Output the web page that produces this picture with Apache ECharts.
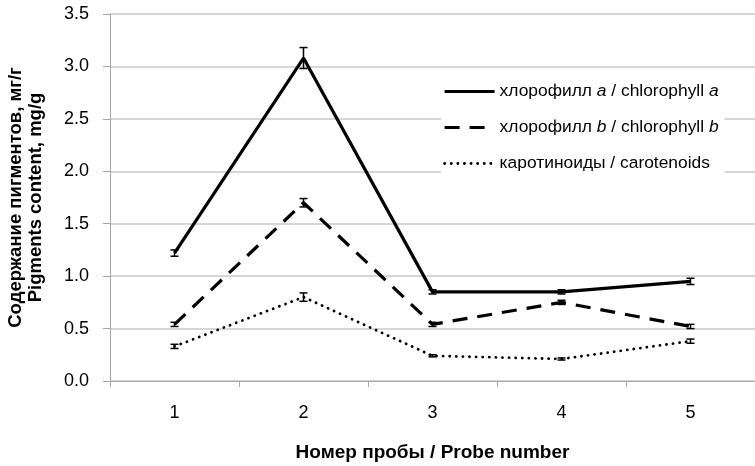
<!DOCTYPE html>
<html><head><meta charset="utf-8">
<script src="https://cdn.jsdelivr.net/npm/echarts@6/dist/echarts.min.js"></script>
<style>html,body{margin:0;padding:0;background:#fff}#c{width:755px;height:466px}</style>
</head><body><div id="c"></div>
<script>
const categories = ['1','2','3','4','5'];
const chlA = [1.22, 3.08, 0.85, 0.85, 0.95];
const chlAErr = [0.03, 0.10, 0.02, 0.02, 0.03];
const chlB = [0.54, 1.70, 0.54, 0.75, 0.52];
const chlBErr = [0.02, 0.04, 0.02, 0.02, 0.02];
const car = [0.33, 0.80, 0.24, 0.21, 0.38];
const carErr = [0.02, 0.04, 0.01, 0.01, 0.02];
const seriesNames = ['хлорофилл a / chlorophyll a', 'хлорофилл b / chlorophyll b', 'каротиноиды / carotenoids'];

const FONT = '"Liberation Sans", Arial, sans-serif';
function errSeries(vals, errs) {
  return {
    type: 'custom', silent: true, z: 5,
    data: vals.map((v, i) => [i, v - errs[i], v + errs[i]]),
    renderItem: function (params, api) {
      const lo = api.coord([api.value(0), api.value(1)]);
      const hi = api.coord([api.value(0), api.value(2)]);
      const w = 4;
      const st = {stroke: '#000', lineWidth: 1.5};
      return {type: 'group', children: [
        {type: 'line', shape: {x1: lo[0], y1: lo[1], x2: hi[0], y2: hi[1]}, style: st},
        {type: 'line', shape: {x1: lo[0]-w, y1: lo[1], x2: lo[0]+w, y2: lo[1]}, style: st},
        {type: 'line', shape: {x1: hi[0]-w, y1: hi[1], x2: hi[0]+w, y2: hi[1]}, style: st}
      ]};
    }
  };
}
const chart = echarts.init(document.getElementById('c'));
const rich = {n: {fontFamily: FONT, fontSize: 17.4, color: '#000'}, i: {fontFamily: FONT, fontSize: 17.4, fontStyle: 'italic', color: '#000'}};
chart.setOption({
  animation: false,
  grid: {left: 110, right: 0, top: 14, bottom: 85, containLabel: false, outerBoundsMode: 'none'},
  legend: {
    orient: 'vertical', left: 441, top: 79, itemGap: 19, itemWidth: 50, itemHeight: 16,
    backgroundColor: '#fff', padding: [4, 6, 12, 2],
    itemStyle: {color: 'rgba(0,0,0,0)', borderWidth: 0, opacity: 0},
    lineStyle: {width: 'inherit'},
    data: seriesNames.map(n => ({name: n})),
    formatter: function (name) {
      if (name === seriesNames[0]) return '{n|хлорофилл }{i|a}{n| / chlorophyll }{i|a}';
      if (name === seriesNames[1]) return '{n|хлорофилл }{i|b}{n| / chlorophyll }{i|b}';
      return '{n|каротиноиды / carotenoids}';
    },
    textStyle: {rich: rich, fontFamily: FONT, fontSize: 17.4}
  },
  xAxis: {
    type: 'category', data: categories, boundaryGap: true,
    name: 'Номер пробы / Probe number', nameLocation: 'middle', nameGap: 62,
    nameTextStyle: {fontFamily: FONT, fontSize: 19, fontWeight: 'bold', color: '#000'},
    axisLine: {lineStyle: {color: '#a6a6a6', width: 1}},
    axisTick: {show: true, length: 6, lineStyle: {color: '#a6a6a6'}},
    axisLabel: {fontFamily: FONT, fontSize: 18, color: '#000', margin: 23},
    splitLine: {show: false}
  },
  yAxis: {
    type: 'value', min: 0, max: 3.5, interval: 0.5,
    name: 'Содержание пигментов, мг/г\nPigments content, mg/g', nameLocation: 'middle', nameGap: 64,
    nameTextStyle: {fontFamily: FONT, fontSize: 18.5, fontWeight: 'bold', color: '#000', lineHeight: 20},
    axisLine: {show: true, lineStyle: {color: '#a6a6a6', width: 1}},
    axisTick: {show: true, length: 7, lineStyle: {color: '#a6a6a6'}},
    axisLabel: {fontFamily: FONT, fontSize: 18, color: '#000', margin: 21, formatter: v => v.toFixed(1)},
    splitLine: {lineStyle: {color: '#c8c8c8', width: 1.5}}
  },
  series: [
    {name: seriesNames[0], type: 'line', data: chlA, symbol: 'none', z: 3,
     lineStyle: {color: '#000', width: 3.2}, itemStyle: {color: '#000'}},
    {name: seriesNames[1], type: 'line', data: chlB, symbol: 'none', z: 3,
     lineStyle: {color: '#000', width: 3.2, type: [15, 10]}, itemStyle: {color: '#000'}},
    {name: seriesNames[2], type: 'line', data: car, symbol: 'none', z: 3,
     lineStyle: {color: '#000', width: 2.8, type: [0.1, 6.5], cap: 'round'}, itemStyle: {color: '#000'}},
    errSeries(chlA, chlAErr), errSeries(chlB, chlBErr), errSeries(car, carErr)
  ]
});
</script></body></html>
